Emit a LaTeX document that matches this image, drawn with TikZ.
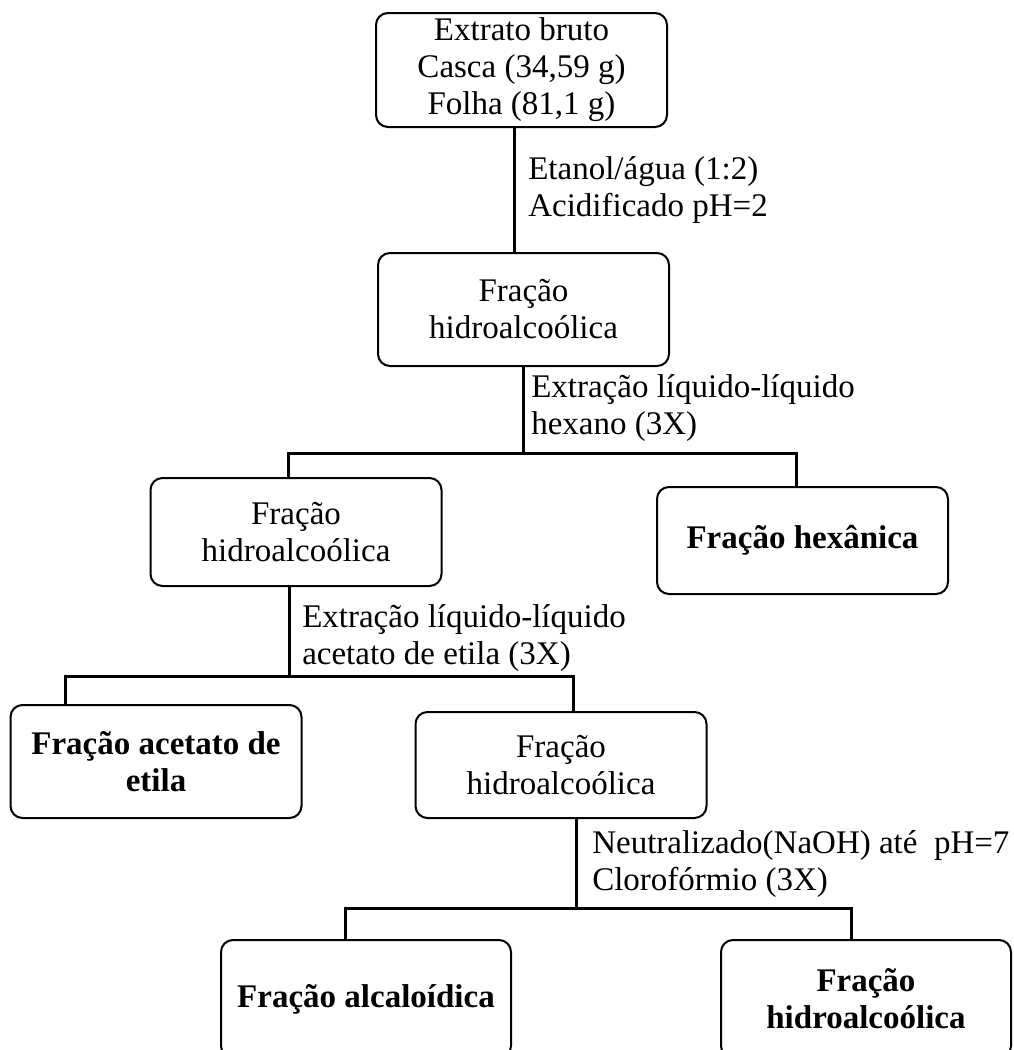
\documentclass[tikz,border=0pt]{standalone}
\usepackage{fontspec}
\setmainfont{Liberation Serif}
\tikzset{
  txt/.style={font=\fontsize{24.75pt}{27.75pt}\selectfont},
  box/.style={draw, line width=1.5pt, rounded corners=9pt, minimum width=218.25pt,
    align=center, inner sep=0pt, txt},
  bbox/.style={box, font=\fontsize{24.75pt}{27.75pt}\selectfont\bfseries},
  conn/.style={line width=2.25pt},
  lbl/.style={anchor=west, align=left, inner sep=0pt, txt},
}
\begin{document}
\begin{tikzpicture}[x=0.75pt,y=-0.75pt]
\clip (0,0) rectangle (1014,1050);
\useasboundingbox (0,0) rectangle (1014,1050);

\node[box, minimum height=85.5pt] (b1) at (521.5,70) {Extrato bruto\\Casca (34,59 g)\\Folha (81,1 g)};
\node[box, minimum height=84.75pt] (b2) at (523.5,309.5) {Fração\\hidroalcoólica};
\node[box, minimum height=81pt] (b3) at (296,532) {Fração\\hidroalcoólica};
\node[bbox, minimum height=80.25pt] (b4) at (802.5,540.5) {Fração hexânica};
\node[bbox, minimum height=84.75pt] (b5) at (156,761.5) {Fração acetato de\\etila};
\node[box, minimum height=79.5pt] (b6) at (561,765) {Fração\\hidroalcoólica};
\node[bbox, minimum height=88.5pt, minimum width=217.5pt] (b7) at (366,999) {Fração alcaloídica};
\node[bbox, minimum height=88.5pt, minimum width=217.5pt] (b8) at (866,999) {Fração\\hidroalcoólica};

\node[lbl] (l1) at (528,190.5) {Etanol/água (1:2)\\Acidificado pH=2};
\node[lbl] (l2) at (531,408.5) {Extração líquido-líquido\\hexano (3X)};
\node[lbl] (l3) at (302,638.5) {Extração líquido-líquido\\acetato de etila (3X)};
\node[lbl] (l4) at (592,864.5) {Neutralizado(NaOH) até~~pH=7\\Clorofórmio (3X)};

\coordinate (v1) at (514,0);
\draw[conn] (b1.south -| v1) -- (b2.north -| v1);

\coordinate (j1) at (523,453);
\coordinate (j1l) at (288,453);
\coordinate (j1r) at (796,453);
\draw[conn] (b2.south -| j1) -- (j1);
\draw[conn] (b3.north -| j1l) -- (j1l) -- (j1r) -- (b4.north -| j1r);

\coordinate (j2) at (289,676);
\coordinate (j2l) at (65,676);
\coordinate (j2r) at (573,676);
\draw[conn] (b3.south -| j2) -- (j2);
\draw[conn] (b5.north -| j2l) -- (j2l) -- (j2r) -- (b6.north -| j2r);

\coordinate (j3) at (576,908);
\coordinate (j3l) at (345,908);
\coordinate (j3r) at (851,908);
\draw[conn] (b6.south -| j3) -- (j3);
\draw[conn] (b7.north -| j3l) -- (j3l) -- (j3r) -- (b8.north -| j3r);
\end{tikzpicture}
\end{document}
